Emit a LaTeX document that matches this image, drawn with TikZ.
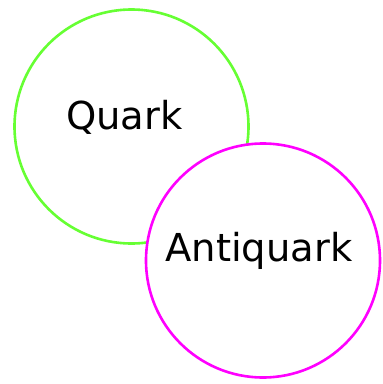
\documentclass[tikz,border=0pt]{standalone}
\usepackage{fontspec}
\setmainfont{DejaVu Sans}
\definecolor{qgreen}{RGB}{102,255,51}
\definecolor{qmag}{RGB}{255,0,255}
\begin{document}
\begin{tikzpicture}[x=1pt,y=-1pt,
  ball/.style={circle,draw,line width=2.6pt,fill=white,minimum size=234pt,inner sep=0pt},
  lbl/.style={anchor=base,inner sep=0pt,font=\fontsize{38.5}{40}\selectfont}]
\useasboundingbox (0,0) rectangle (383,384);
\node[ball,draw=qgreen] (quark) at (131.5,126.5) {};
\node[ball,draw=qmag] (anti) at (263,260.5) {};
\node[lbl] (qt) at (124.5,129) {Quark};
\node[lbl] (at) at (259,261) {Antiquark};
\end{tikzpicture}
\end{document}
